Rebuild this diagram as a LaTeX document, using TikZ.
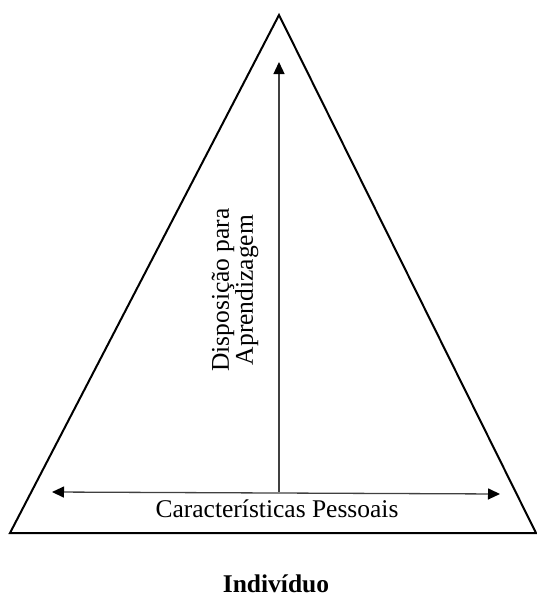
\documentclass[tikz,border=0pt]{standalone}
\usepackage{fontspec}
\setmainfont{Liberation Serif}
\usetikzlibrary{arrows.meta}
\tikzset{
  lbl/.style={inner sep=0pt,font=\fontsize{25.5}{18.5}\selectfont},
  tip/.tip={Triangle[length=12pt,width=11pt,color=black]},
  arr/.style={line width=1.3pt,draw=black!75,-tip}
}
\begin{document}
\begin{tikzpicture}[x=1pt,y=-1pt]
\useasboundingbox (0,0) rectangle (537,597);
\coordinate (top) at (279,15);
\coordinate (left) at (10,533);
\coordinate (right) at (536,533);
\draw [line width=2pt,line join=miter] (top)--(left)--(right)--cycle;
\coordinate (hl) at (52,492);
\coordinate (hr) at (500,494);
\coordinate (vb) at (279,492);
\coordinate (vt) at (279,62);
\draw [arr,tip-tip] (hl)--(hr);
\draw [arr] (vb)--(vt);
\node [lbl] (carac) at (277,509) {Características Pessoais};
\node [lbl,rotate=90,align=center] (disp) at (235,290) {Disposição para\\Aprendizagem};
\node [lbl,font=\fontsize{25.5}{18.5}\selectfont\bfseries,anchor=base] (ind) at (276,592) {Indivíduo};
\end{tikzpicture}
\end{document}
